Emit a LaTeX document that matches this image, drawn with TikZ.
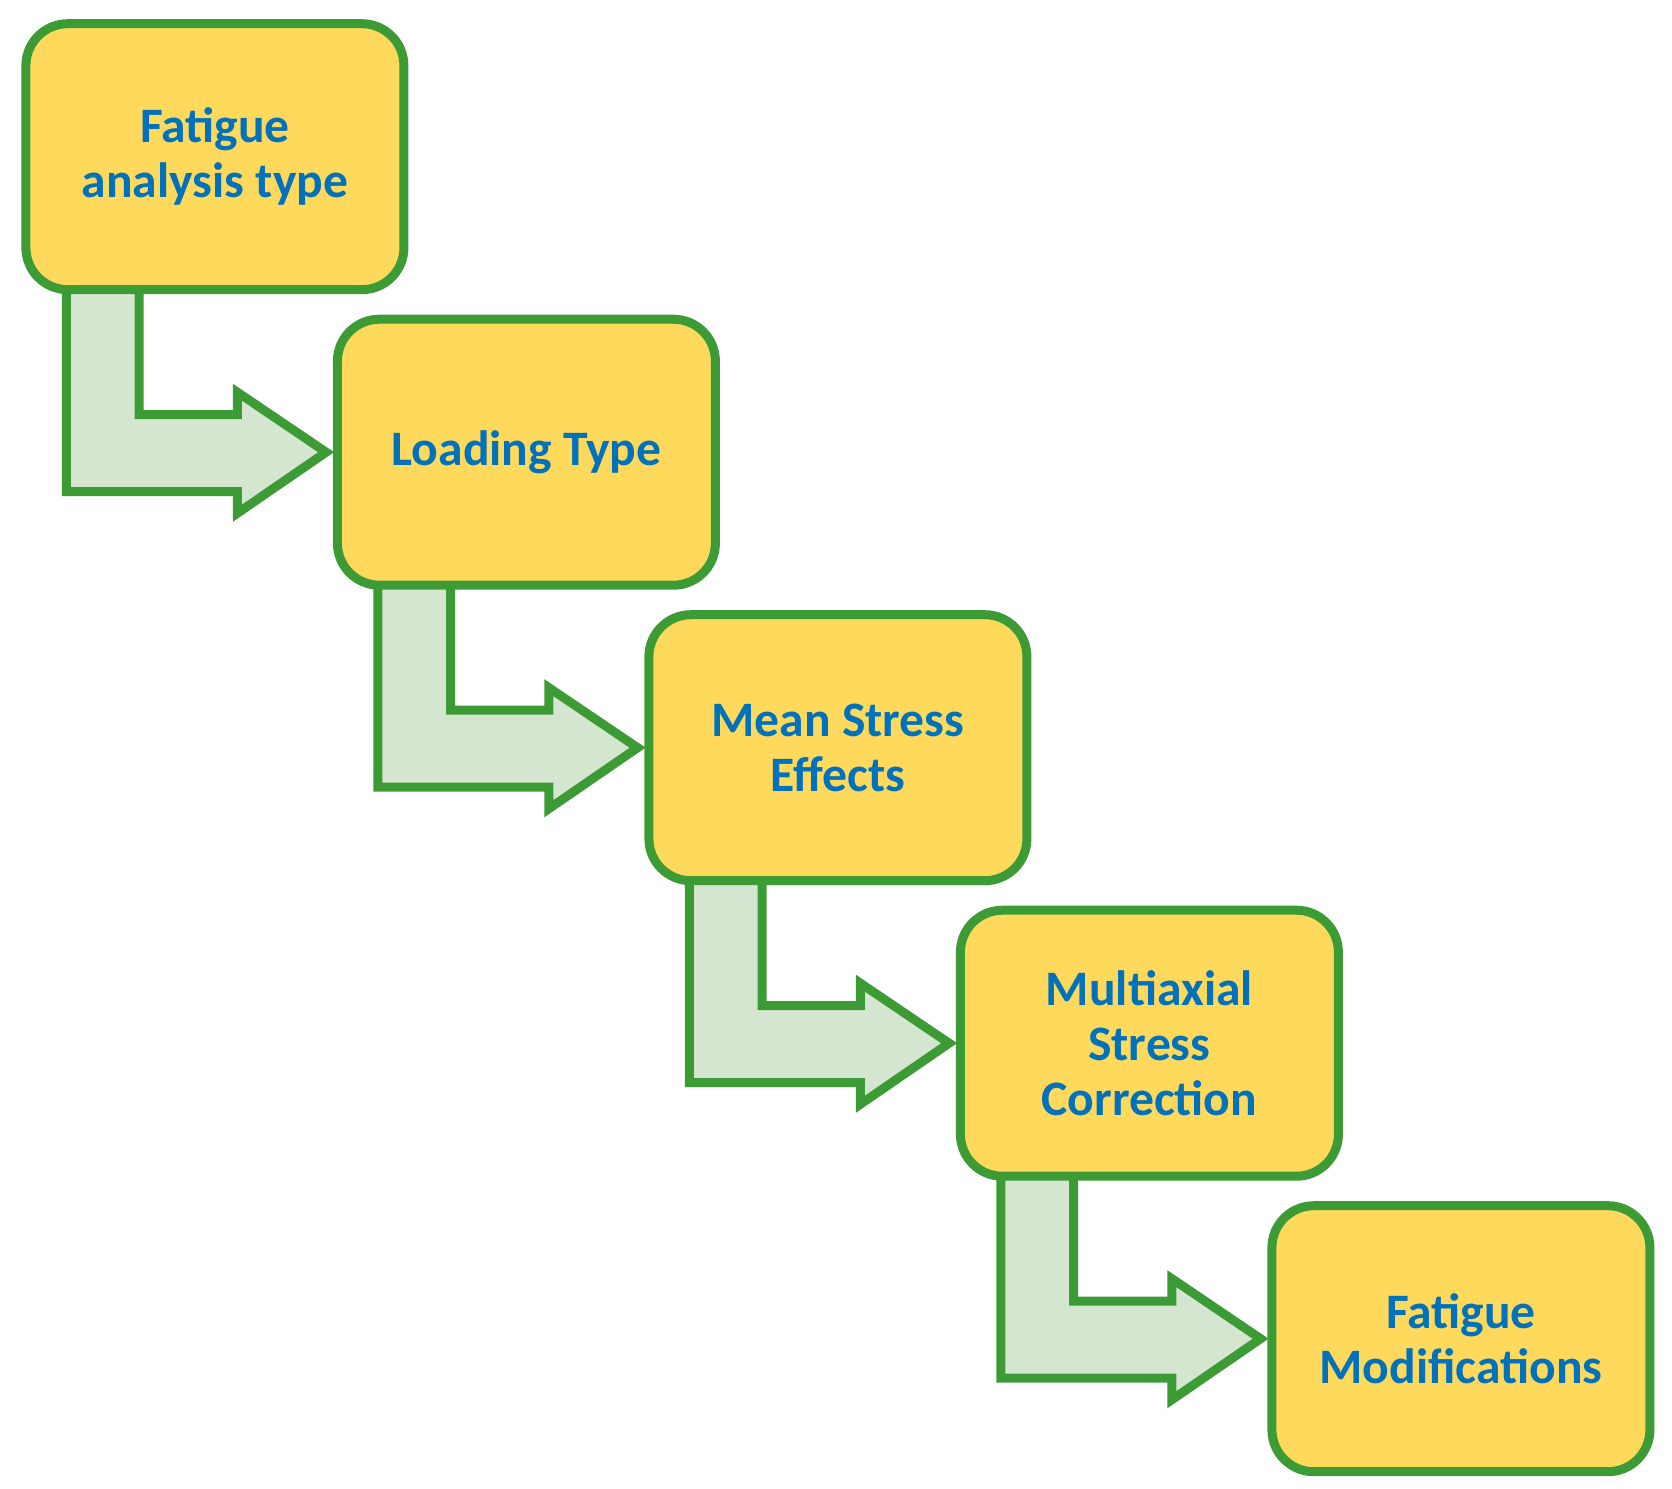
\documentclass[tikz,border=0pt]{standalone}
\usepackage{fontspec}
\setmainfont{Carlito}
\definecolor{boxy}{RGB}{255,217,92}
\definecolor{grn}{RGB}{61,155,53}
\definecolor{afill}{RGB}{213,230,208}
\definecolor{txt}{RGB}{0,114,188}
\begin{document}
\begin{tikzpicture}[x=0.5pt,y=-0.5pt,
  box/.style={draw=grn,line width=4.5pt,fill=boxy,rounded corners=21pt,minimum width=189pt,minimum height=133pt,anchor=north west,align=center,text=txt,font=\fontsize{24.8}{27.5}\selectfont\bfseries,inner sep=0pt},
  arr/.style={draw=grn,line width=4.5pt,fill=afill,line join=miter}]
\useasboundingbox (0,0) rectangle (1672,1489);
\foreach \i in {0,1,2,3}{
  \pgfmathsetmacro\ox{21.4+311.5*\i}
  \pgfmathsetmacro\oy{19.2+295.5*\i}
  \begin{scope}[shift={(\ox*0.5pt,-\oy*0.5pt)}]
    \draw[arr] (44.9,267) -- (117.6,267) -- (117.6,395.5) -- (216,395.5) -- (216,373) -- (304.7,433) -- (216,494) -- (216,472.5) -- (44.9,472.5) -- cycle;
  \end{scope}
}
\node[box] (b1) at (21.4,19.2) {Fatigue\\analysis type};
\node[box] (b2) at (332.9,314.7) {Loading Type};
\node[box] (b3) at (644.4,610.2) {Mean Stress\\Effects};
\node[box] (b4) at (955.9,905.7) {Multiaxial\\Stress\\Correction};
\node[box] (b5) at (1267.4,1201.2) {Fatigue\\Modifications};
\end{tikzpicture}
\end{document}
